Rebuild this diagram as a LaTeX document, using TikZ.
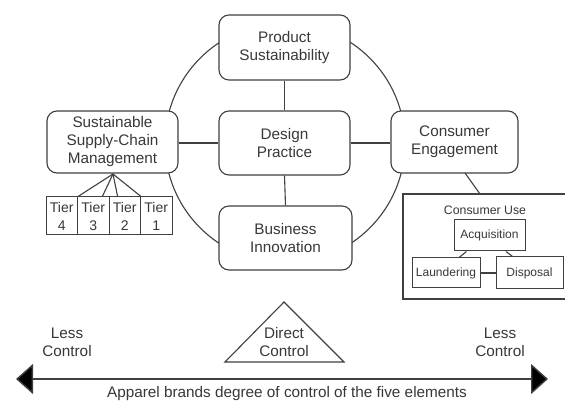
\documentclass[tikz,border=0pt]{standalone}
\usepackage{fontspec}
\setmainfont{Liberation Sans}
\usetikzlibrary{arrows.meta,calc}
\definecolor{ln}{HTML}{404040}
\definecolor{tx}{HTML}{383838}
\tikzset{
  rbox/.style={draw=ln, line width=1.1pt, rounded corners=10pt, fill=white, text=tx,
    align=center, inner sep=0pt, font=\fontsize{15.3}{18}\selectfont},
  sbox/.style={draw=ln, line width=1.0pt, fill=white, text=tx, align=center, inner sep=0pt,
    font=\fontsize{12}{14}\selectfont},
  tbox/.style={draw=ln, line width=1.0pt, fill=white, text=tx, align=center, inner sep=0pt,
    minimum width=31.5pt, minimum height=38pt, font=\fontsize{14}{18}\selectfont},
  conn/.style={draw=ln, line width=1.1pt},
  lbl/.style={text=tx, align=center, inner sep=0pt, font=\fontsize{15.3}{18}\selectfont}
}
\begin{document}
\begin{tikzpicture}[x=1pt,y=-1pt]
\useasboundingbox[fill=white] (0,0) rectangle (565,403);
\clip (0,0) rectangle (565,403);
% circle
\draw[conn] (285,143) circle (120);
% main boxes
\node[rbox, minimum width=131pt, minimum height=65pt] (prod) at (284.5,47.5) {Product\\Sustainability};
\node[rbox, minimum width=131pt, minimum height=64pt] (design) at (284.5,143) {Design\\Practice};
\node[rbox, minimum width=133pt, minimum height=64pt] (bus) at (285.5,238) {Business\\Innovation};
\node[rbox, minimum width=131pt, minimum height=62pt] (sscm) at (112.5,142) {Sustainable\\Supply-Chain\\Management};
\node[rbox, minimum width=127pt, minimum height=62pt] (ce) at (454.5,142) {Consumer\\Engagement};
\draw[conn] (prod.south) -- (design.north);
\draw[conn] (design.south) -- (bus.north);
\draw[conn] (sscm.east |- design.west) -- (design.west);
\draw[conn] (design.east) -- (ce.west |- design.east);
% tiers
\node[tbox] (t4) at (61.75,216) {Tier\\4};
\node[tbox] (t3) at (93.25,216) {Tier\\3};
\node[tbox] (t2) at (124.75,216) {Tier\\2};
\node[tbox] (t1) at (156.25,216) {Tier\\1};
\coordinate (apex) at (113,174);
\draw[conn] (apex) -- (t4.north east);
\draw[conn] (apex) -- ($(t3.north west)!0.78!(t3.north east)$);
\draw[conn] (apex) -- ($(t2.north west)!0.28!(t2.north east)$);
\draw[conn] (apex) -- (t2.north east);
% consumer use
\node[draw=ln, line width=1.1pt, fill=white, minimum width=172pt, minimum height=105pt, inner sep=0pt] (cuse) at (489,246.5) {};
\node[text=tx, inner sep=0pt, font=\fontsize{12.3}{14}\selectfont] (cul) at (485,210) {Consumer Use};
\coordinate (ceout) at (465,173);
\draw[conn] (ceout) -- (480,194) coordinate (cuin);
\node[sbox, minimum width=71pt, minimum height=31pt] (acq) at (489.5,235.5) {Acquisition};
\node[sbox, minimum width=68pt, minimum height=30pt] (laun) at (446,273) {Laundering};
\node[sbox, minimum width=67pt, minimum height=32pt] (disp) at (529.5,273) {Disposal};
\draw[conn] ($(acq.south west)!0.18!(acq.south east)$) -- ($(laun.north west)!0.69!(laun.north east)$);
\draw[conn] ($(acq.south west)!0.73!(acq.south east)$) -- ($(disp.north west)!0.25!(disp.north east)$);
\draw[conn] (laun.east) -- (disp.west);
% bottom
\node[lbl] (lessL) at (67,342) {Less\\Control};
\node[lbl] (lessR) at (500,342) {Less\\Control};
\coordinate (tA) at (284,302);
\coordinate (tB) at (225,362);
\coordinate (tC) at (344,362);
\draw[conn] (tA) -- (tB) -- (tC) -- cycle;
\node[lbl] (direct) at (284,342) {Direct\\Control};
\coordinate (arL) at (16,379);
\coordinate (arR) at (548,379);
\draw[draw=ln, line width=1.4pt, {Triangle[length=17pt,width=30pt,fill=black]}-{Triangle[length=17pt,width=30pt,fill=black]}] (arL) -- (arR);
\node[lbl] (caption) at (287,394) {Apparel brands degree of control of the five elements};
\end{tikzpicture}
\end{document}
